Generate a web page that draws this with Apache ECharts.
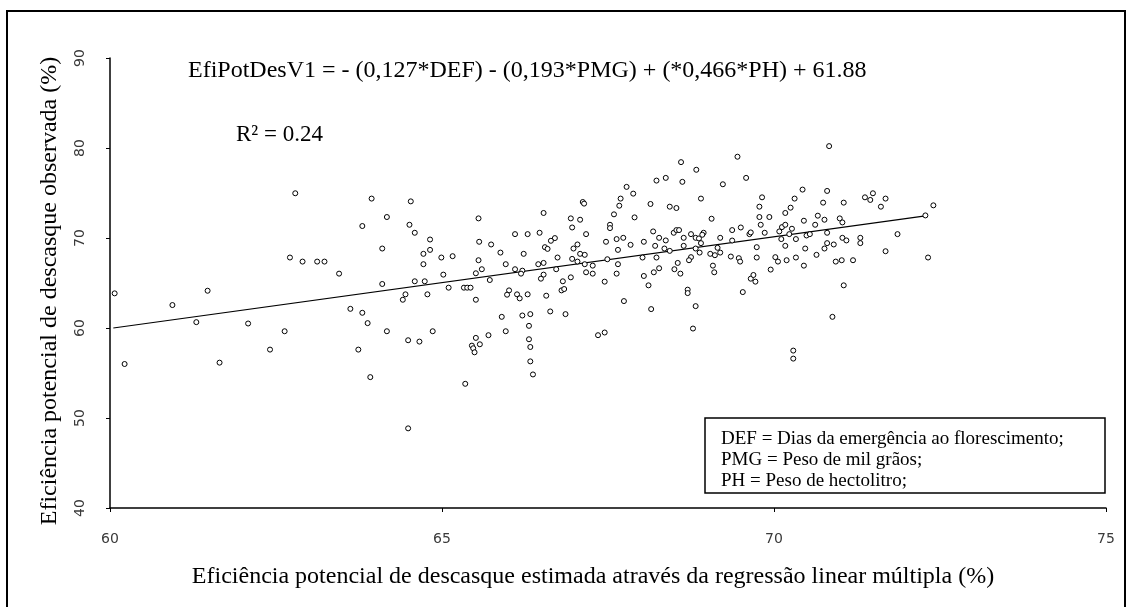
<!DOCTYPE html>
<html>
<head>
<meta charset="utf-8">
<script src="https://cdn.jsdelivr.net/npm/echarts@6/dist/echarts.min.js"></script>
<style>html,body{margin:0;padding:0;background:#fff}#c{width:1132px;height:607px}</style>
</head>
<body>
<div id="c"></div>
<script>
var estimated = [
60.07,60.22,60.94,61.30,61.47,61.65,62.08,62.41,62.63,
62.79,63.94,64.53,64.17,63.80,64.51,64.59,64.82,64.10,64.82,64.72,62.71,62.90,63.12,63.23,64.72,63.45,64.10,64.59,64.74,64.45,64.41,64.78,63.62,63.80,63.88,64.17,64.49,64.66,64.86,63.74,63.92,64.49,
65.55,66.53,66.94,67.08,66.96,66.10,66.29,66.47,65.56,65.74,66.70,66.64,66.55,66.59,67.04,66.98,65.88,66.23,67.08,64.99,65.16,65.55,66.96,67.04,65.96,66.45,66.53,66.74,65.60,65.51,66.10,66.21,66.19,66.72,66.53,66.49,66.94,65.02,65.72,66.82,65.10,65.33,65.38,65.43,66.80,66.84,65.51,66.01,65.98,66.13,66.17,66.29,66.57,65.90,66.21,66.33,66.63,66.86,66.31,65.96,65.70,65.51,66.31,65.45,65.47,65.57,65.49,66.33,66.33,66.37,65.35,
67.12,67.14,67.17,67.15,67.15,67.27,67.17,67.27,67.45,67.47,67.49,67.53,67.53,67.59,67.63,67.65,67.65,67.63,67.67,67.69,67.73,67.78,67.88,67.90,67.84,67.74,67.35,67.45,68.02,68.04,68.04,68.11,68.15,68.14,68.18,68.21,68.23,68.19,68.27,68.23,68.27,68.35,68.37,68.37,68.43,68.43,68.53,68.49,68.53,68.57,68.50,68.55,68.59,68.60,68.62,68.64,68.64,68.75,68.75,68.72,68.70,68.70,68.82,68.78,68.83,68.82,68.87,68.94,68.92,68.90,68.90,68.82,68.88,69.04,69.11,69.15,69.19,69.08,69.10,69.06,69.19,69.23,69.35,69.37,69.37,
69.45,69.58,70.83,69.47,69.49,69.50,69.53,69.63,69.65,69.65,69.69,69.72,69.74,69.74,69.78,69.82,69.78,69.80,69.86,69.93,69.95,70.02,70.06,70.08,70.12,70.17,70.11,70.17,70.19,70.17,70.25,70.31,70.23,70.27,70.33,70.33,70.29,70.29,70.43,70.45,70.49,70.54,70.47,70.45,70.62,70.66,70.64,70.74,70.76,70.80,70.80,70.80,70.76,70.90,70.88,70.99,71.03,71.03,71.09,71.05,70.93,71.02,71.05,71.19,71.30,71.30,71.37,71.45,71.49,71.61,71.68,71.68,71.86,72.28,72.32,72.40
];
var observed = [
63.85,56.00,62.55,60.65,64.14,56.15,60.50,57.60,59.64,
74.97,74.38,74.07,72.33,71.33,71.47,70.58,69.83,68.83,68.68,68.24,67.83,67.38,67.38,67.38,67.09,66.04,64.89,65.19,65.19,63.74,63.14,63.74,62.13,61.69,60.54,59.64,58.64,58.49,59.64,57.60,54.54,48.85,
72.18,72.78,72.18,72.03,71.17,70.43,70.43,70.58,69.58,69.28,69.99,69.69,68.98,68.79,69.28,68.83,68.38,68.24,68.24,67.83,67.98,67.53,67.68,67.38,67.09,67.09,67.23,67.83,66.53,66.08,66.53,66.37,66.04,66.53,65.93,65.48,65.63,65.93,65.33,65.19,64.48,64.48,64.48,64.48,64.18,64.33,63.14,64.18,63.70,63.74,63.29,63.74,63.59,61.24,61.39,61.54,61.84,61.54,60.24,59.64,59.20,58.90,58.75,58.04,57.75,58.19,57.30,57.89,56.29,54.84,53.80,
74.00,73.82,70.43,68.13,67.09,66.93,66.19,66.04,65.15,69.58,67.64,71.47,71.10,72.63,69.88,68.68,67.09,66.04,73.59,74.38,70.02,75.68,74.93,72.29,69.24,62.99,59.20,59.50,67.83,65.78,69.58,64.74,62.10,73.78,70.73,69.13,67.83,66.19,66.64,76.38,70.02,68.83,69.73,76.68,68.57,73.48,73.33,70.58,70.88,70.88,66.53,67.23,66.04,78.43,76.24,70.02,69.13,70.43,67.87,67.53,64.26,63.88,62.43,59.94,77.58,70.02,69.95,70.58,70.36,69.43,74.38,68.83,68.38,68.24,68.09,68.91,68.38,66.93,66.19,72.14,70.02,75.97,67.94,70.88,69.72,
79.03,76.68,80.21,67.76,67.38,71.17,63.99,70.43,70.62,65.48,65.89,65.15,68.98,67.83,73.48,74.52,72.33,71.47,70.58,72.33,66.49,67.87,67.38,70.73,71.21,71.47,69.88,69.13,67.53,72.78,73.37,74.38,70.43,71.03,69.88,67.83,57.49,56.60,75.38,71.92,70.28,70.43,68.83,66.93,71.47,72.48,68.13,73.93,72.03,75.23,70.58,69.43,68.83,69.28,61.24,72.18,71.73,70.02,69.73,73.93,67.38,67.53,64.74,67.53,70.02,69.43,74.52,74.23,74.97,73.48,74.38,68.53,70.43,72.51,67.83,73.63
];
// Fitted regression line end points (estimated, observed)
var fitX = [60.05, 72.28];
var fitY = [60.00, 72.45];

var xTicks = [60, 65, 70, 75];
var yTicks = [40, 50, 60, 70, 80, 90];

var equationText = 'EfiPotDesV1 = - (0,127*DEF) - (0,193*PMG) + (*0,466*PH) + 61.88';
var r2Text = 'R² = 0.24';
var legendLines = ['DEF = Dias da emergência ao florescimento;', 'PMG = Peso de mil grãos;', 'PH = Peso de hectolitro;'];
var xTitle = 'Eficiência potencial de descasque estimada através da regressão linear múltipla (%)';
var yTitle = 'Eficiência potencial de descasque observada (%)';

var points = estimated.map(function (x, i) { return [x, observed[i]]; });
var fitLine = fitX.map(function (x, i) { return [x, fitY[i]]; });

var serif = '"Liberation Serif", "Times New Roman", serif';
var tickFont = { color: '#3a3a3a', fontFamily: '"DejaVu Sans", sans-serif', fontSize: 14 };

var chart = echarts.init(document.getElementById('c'), null, { renderer: 'canvas' });
var graphics = [
  { type: 'rect', shape: { x: 7, y: 11, width: 1118, height: 600 }, style: { fill: 'none', stroke: '#000', lineWidth: 2 }, silent: true, z: 0 },
  { type: 'text', x: 188, y: 71, style: { text: equationText, font: '24px ' + serif, fill: '#000', textVerticalAlign: 'middle' }, z: 10 },
  { type: 'text', x: 236, y: 135, style: { text: r2Text, font: '23px ' + serif, fill: '#000', textVerticalAlign: 'middle' }, z: 10 },
  { type: 'rect', shape: { x: 705, y: 418, width: 400, height: 75 }, style: { fill: '#fff', stroke: '#000', lineWidth: 1.5 }, z: 10 },
  { type: 'text', x: 50, y: 291, rotation: Math.PI / 2, style: { text: yTitle, font: '24px ' + serif, fill: '#000', textAlign: 'center', textVerticalAlign: 'middle' }, z: 10 },
  { type: 'text', x: 593, y: 577, style: { text: xTitle, font: '24px ' + serif, fill: '#000', textAlign: 'center', textVerticalAlign: 'middle' }, z: 10 }
];
legendLines.forEach(function (t, i) {
  graphics.push({ type: 'text', x: 721, y: 439 + i * 21, style: { text: t, font: '19px ' + serif, fill: '#000', textVerticalAlign: 'middle' }, z: 11 });
});

chart.setOption({
  animation: false,
  backgroundColor: '#fff',
  grid: { left: 110, right: 26, top: 58, bottom: 99, containLabel: false },
  xAxis: {
    type: 'value', min: xTicks[0], max: xTicks[xTicks.length - 1], interval: 5,
    axisLine: { onZero: false, lineStyle: { color: '#000', width: 1.5 } },
    axisTick: { show: true, inside: false, length: 4, lineStyle: { color: '#000' } },
    axisLabel: Object.assign({ margin: 24 }, tickFont),
    splitLine: { show: false }
  },
  yAxis: {
    type: 'value', min: yTicks[0], max: yTicks[yTicks.length - 1], interval: 10,
    axisLine: { onZero: false, lineStyle: { color: '#000', width: 1.5 } },
    axisTick: { show: true, inside: false, length: 4, lineStyle: { color: '#000' } },
    axisLabel: Object.assign({ margin: 23, rotate: 90 }, tickFont),
    splitLine: { show: false }
  },
  series: [
    {
      type: 'line', data: fitLine, symbol: 'none', silent: true, z: 3,
      lineStyle: { color: '#000', width: 1.2 }
    },
    {
      type: 'scatter', data: points, symbol: 'circle', symbolSize: 5, silent: true, z: 4,
      itemStyle: { color: '#fff', borderColor: '#000', borderWidth: 1, opacity: 1 }
    }
  ],
  graphic: graphics
});
</script>
</body>
</html>
